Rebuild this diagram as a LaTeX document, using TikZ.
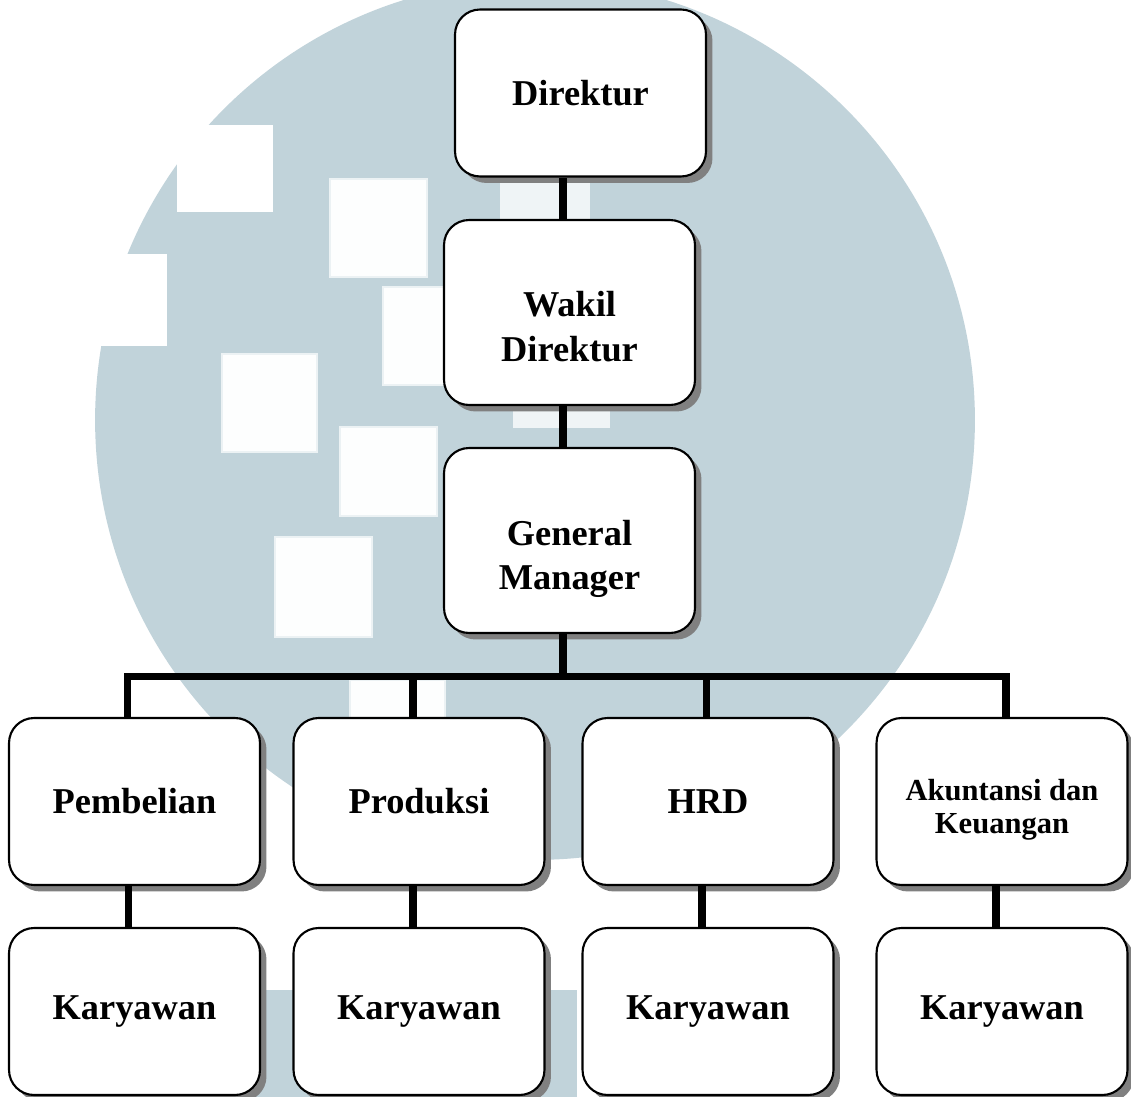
\documentclass[tikz,border=0pt]{standalone}
\usepackage{fontspec}
\setmainfont{Liberation Serif}
\usetikzlibrary{shadows}
\definecolor{wm}{RGB}{193,211,218}
\newcommand{\lowtxt}[2]{\raisebox{-#1}[\height][\depth]{\begin{tabular}{@{}c@{}}#2\end{tabular}}}

\begin{document}
\begin{tikzpicture}[x=0.02cm, y=-0.02cm]
\tikzstyle{box}=[draw, line width=1.2pt, fill=white, rounded corners=0.5cm, minimum width=5.02cm, minimum height=3.34cm, inner sep=0pt, font=\bfseries\fontsize{20.7}{25.6}\selectfont, drop shadow={shadow xshift=0.13cm, shadow yshift=-0.13cm, fill=black!50, opacity=1}]
\tikzstyle{tall}=[minimum height=3.7cm]
\tikzstyle{link}=[line width=0.15cm]
\tikzstyle{sq}=[fill=white!97!wm, draw=white!70!wm, line width=1.5pt]
\useasboundingbox (0,0) rectangle (1131,1097);

% watermark
\fill[wm] (535,420) circle[radius=8.8cm];
\fill[wm] (250,990) rectangle (577,1100);
\fill[white] (177,125) rectangle (273,212);
\fill[white] (80,254) rectangle (167,346);
\draw[sq] (330,179) rectangle (427,277);
\draw[sq] (383,287) rectangle (460,385);
\draw[sq] (222,354) rectangle (317,452);
\draw[sq] (340,427) rectangle (437,516);
\draw[sq] (275,537) rectangle (372,637);
\draw[sq] (350,680) rectangle (445,775);
\fill[white!75!wm] (500,183) rectangle (590,222);
\fill[white!75!wm] (513,411) rectangle (610,428);

\node[box] (D) at (580.5,93) {Direktur};
\node[box, tall] (WD) at (569.5,312.5) {\lowtxt{0.36cm}{Wakil\\Direktur}};
\node[box, tall] (GM) at (569.5,540.5) {\lowtxt{0.36cm}{General\\Manager}};
\node[box] (B1) at (134.5,801.5) {Pembelian};
\node[box] (B2) at (419,801.5) {Produksi};
\node[box] (B3) at (708,801.5) {HRD};
\node[box, font=\bfseries\fontsize{17.4}{18.8}\selectfont] (B4) at (1002,801.5) {\lowtxt{0.17cm}{Akuntansi dan\\Keuangan}};
\node[box] (K1) at (134.5,1011.5) {Karyawan};
\node[box] (K2) at (419,1011.5) {Karyawan};
\node[box] (K3) at (708,1011.5) {Karyawan};
\node[box] (K4) at (1002,1011.5) {Karyawan};

\coordinate (J1) at (127.5,676.5);
\coordinate (J2) at (413,676.5);
\coordinate (J3) at (706.5,676.5);
\coordinate (J4) at (1006,676.5);

\draw[link] ([xshift=-0.13cm]WD.north) -- ([xshift=-0.13cm]WD.north |- D.south);
\draw[link] ([xshift=-0.13cm]GM.north) -- ([xshift=-0.13cm]GM.north |- WD.south);
\draw[link] ([xshift=-0.13cm]GM.south) -- ([xshift=-0.13cm]GM.south |- J1);
\draw[link] (J1 |- B1.north) -- (J1) -- (J4) -- (J4 |- B4.north);
\draw[link] (J2) -- (J2 |- B2.north);
\draw[link] (J3) -- (J3 |- B3.north);
\draw[link] ([xshift=-0.12cm]B1.south) -- ([xshift=-0.12cm]K1.north);
\draw[link] ([xshift=-0.12cm]B2.south) -- ([xshift=-0.12cm]K2.north);
\draw[link] ([xshift=-0.12cm]B3.south) -- ([xshift=-0.12cm]K3.north);
\draw[link] ([xshift=-0.12cm]B4.south) -- ([xshift=-0.12cm]K4.north);
\end{tikzpicture}
\end{document}
